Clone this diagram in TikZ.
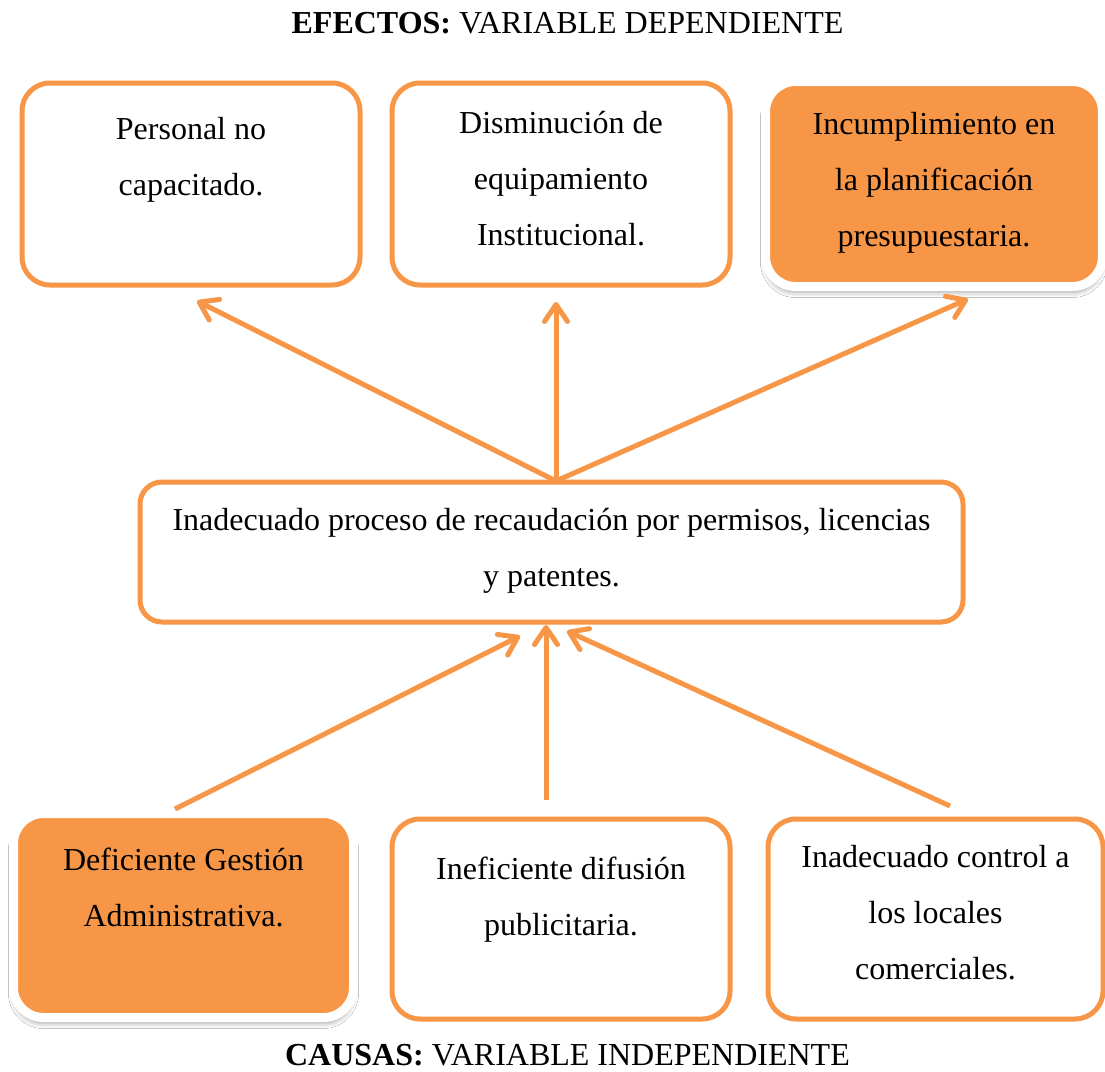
\documentclass[tikz,border=0pt]{standalone}
\usepackage{fontspec}
\setmainfont{Liberation Serif}
\usetikzlibrary{arrows.meta,shadows.blur}
\definecolor{accent}{RGB}{247,150,70}

\tikzset{
  outlinebox/.style={draw=accent, line width=5pt, rounded corners=28pt,
    inner sep=0pt, fill=white},
  filledbox/.style={draw=white, line width=9pt, fill=accent, rounded corners=30pt,
    inner sep=0pt,
    blur shadow={shadow xshift=0pt, shadow yshift=-6pt,
      shadow blur radius=5pt, shadow opacity=35}},
  boxtext/.style={align=center, inner sep=0pt, text=black,
    font=\fontsize{32pt}{56pt}\selectfont},
  heading/.style={inner sep=0pt, text=black, anchor=base,
    font=\fontsize{32pt}{38pt}\selectfont},
  conn/.style={draw=accent, line width=5pt,
    -{Straight Barb[length=17pt,width=23pt,line cap=round,line join=round]}}
}

\begin{document}
\begin{tikzpicture}[x=1pt,y=-1pt]
  \useasboundingbox (0,0) rectangle (1105,1071);
  \fill[white] (0,0) rectangle (1105,1071);

  % headings
  \node[heading] (efectos) at (567.5,33) {\textbf{EFECTOS:} VARIABLE DEPENDIENTE};
  \node[heading] (causas) at (567.5,1065) {\textbf{CAUSAS:} VARIABLE INDEPENDIENTE};

  % effects (top row)
  \node[outlinebox, minimum width=338pt, minimum height=202pt] (e1) at (191,184) {};
  \node[outlinebox, minimum width=338pt, minimum height=202pt] (e2) at (561,184) {};
  \node[filledbox, minimum width=337pt, minimum height=205pt] (e3) at (934,184) {};
  \node[boxtext] (e1t) at (191,156.3) {\strut Personal no\\\strut capacitado.};
  \node[boxtext] (e2t) at (561,178.3) {\strut Disminución de\\\strut equipamiento\\\strut Institucional.};
  \node[boxtext] (e3t) at (934,178.8) {\strut Incumplimiento en\\\strut la planificación\\\strut presupuestaria.};

  % central problem
  \node[outlinebox, rounded corners=22pt, minimum width=823pt, minimum height=140pt] (prob) at (551.5,552) {};
  \node[boxtext] (probt) at (551.5,546.8) {\strut Inadecuado proceso de recaudación por permisos, licencias\\\strut y patentes.};

  % causes (bottom row)
  \node[filledbox, minimum width=340pt, minimum height=204pt] (c1) at (183.5,915.5) {};
  \node[outlinebox, minimum width=338pt, minimum height=200pt] (c2) at (561,919) {};
  \node[outlinebox, minimum width=335pt, minimum height=200pt] (c3) at (935.5,919) {};
  \node[boxtext] (c1t) at (183.5,887.3) {\strut Deficiente Gestión\\\strut Administrativa.};
  \node[boxtext] (c2t) at (561,896) {\strut Ineficiente difusión\\\strut publicitaria.};
  \node[boxtext] (c3t) at (935.5,912.5) {\strut Inadecuado control a\\\strut los locales\\\strut comerciales.};

  % connector ends
  \coordinate (hub) at (556,481);
  \coordinate (e1in) at (197,301);
  \coordinate (e2in) at (556,302);
  \coordinate (e3in) at (968,299);
  \coordinate (c1out) at (175,809);
  \coordinate (c2out) at (546,800);
  \coordinate (c3out) at (950,806);
  \coordinate (pin1) at (520,636);
  \coordinate (pin2) at (546,625);
  \coordinate (pin3) at (567,631);

  % problem -> effects
  \draw[conn] (hub) -- (e1in);
  \draw[conn] (hub) -- (e2in);
  \draw[conn] (hub) -- (e3in);

  % causes -> problem
  \draw[conn] (c1out) -- (pin1);
  \draw[conn] (c2out) -- (pin2);
  \draw[conn] (c3out) -- (pin3);
\end{tikzpicture}
\end{document}
